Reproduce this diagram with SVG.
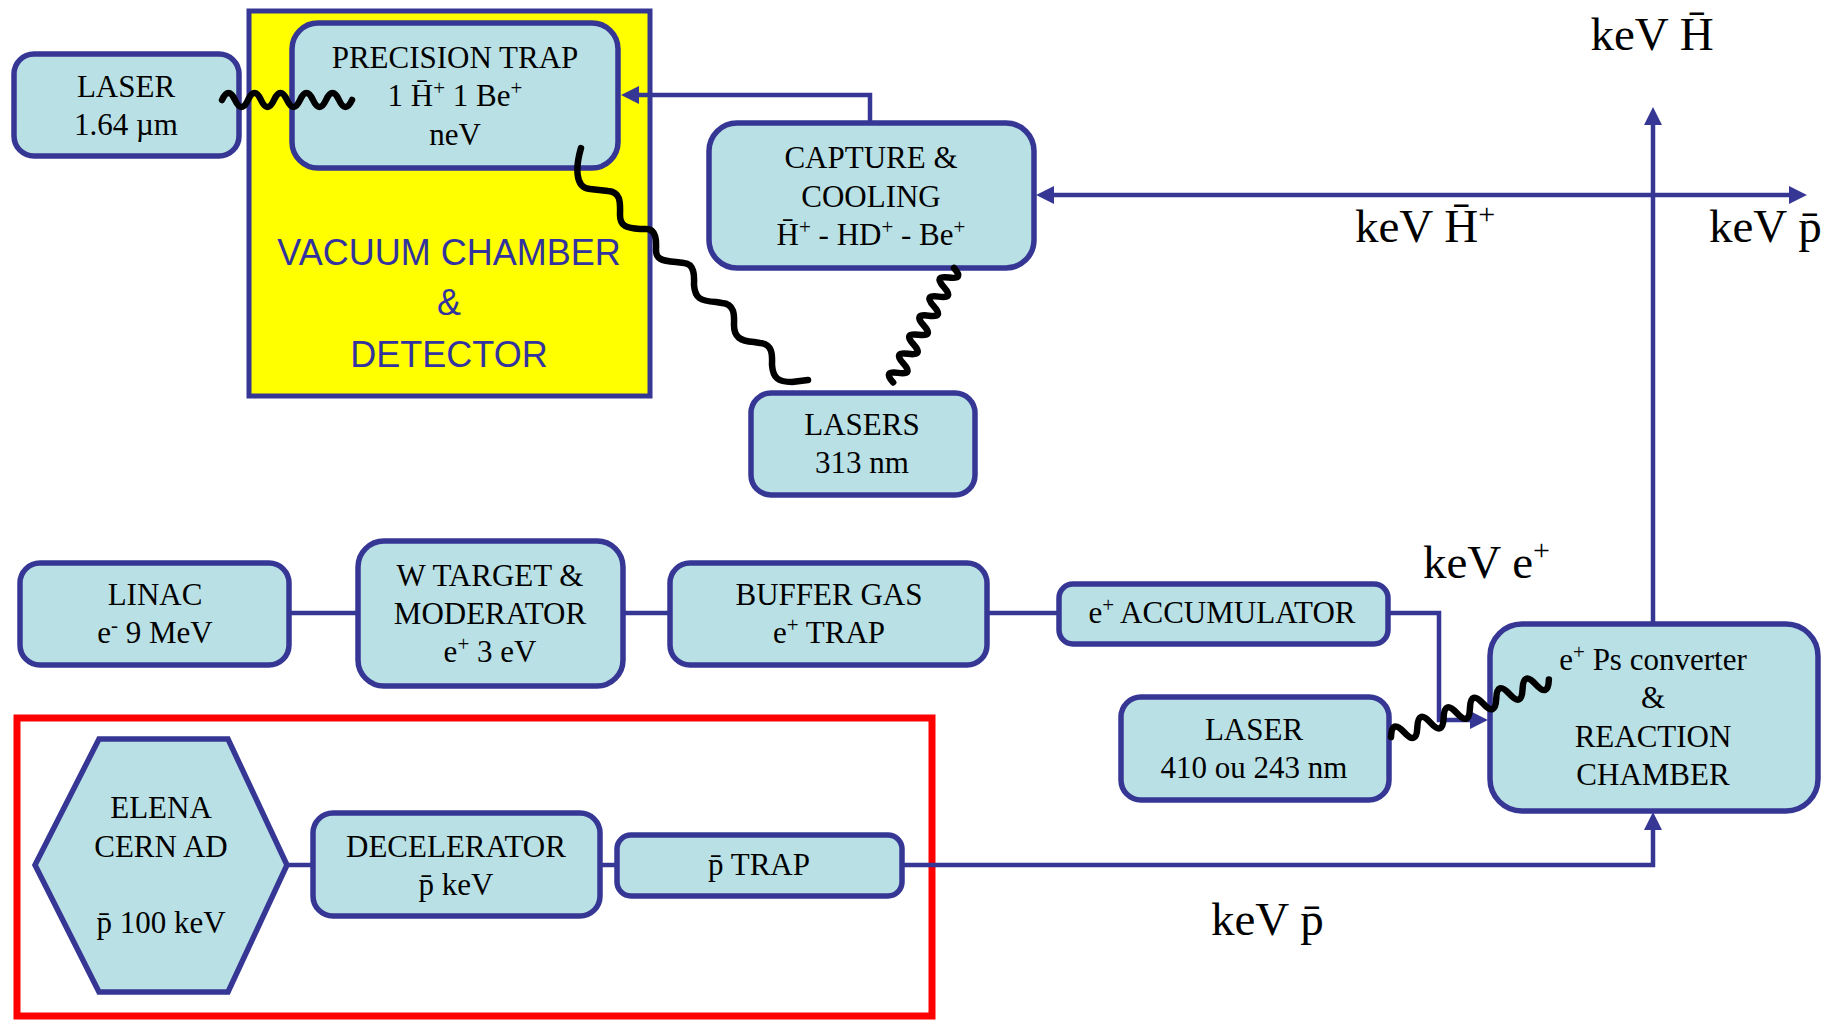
<svg xmlns="http://www.w3.org/2000/svg" width="1839" height="1022" viewBox="0 0 1839 1022">
<style>
.box{fill:#B9E0E4;stroke:#363795;stroke-width:5.5}
.t{font-family:"Liberation Serif","Times New Roman",serif;font-size:31px;fill:#000;text-anchor:middle}
.big{font-family:"Liberation Serif","Times New Roman",serif;font-size:47px;fill:#000}
.sup{font-size:21px}
.bl{fill:none;stroke:#363795;stroke-width:4.5}
.wave{fill:none;stroke:#000;stroke-width:6.5;stroke-linecap:round;stroke-linejoin:round}
.vac{font-family:"Liberation Sans",Arial,sans-serif;font-size:36px;fill:#3333A0;text-anchor:middle}
</style>
<defs>
<marker id="arr" viewBox="0 0 10 10" refX="6.7" refY="5" markerWidth="18" markerHeight="18" markerUnits="userSpaceOnUse" orient="auto-start-reverse">
<path d="M0,0 L10,5 L0,10 z" fill="#363795"/>
</marker>
</defs>
<rect width="1839" height="1022" fill="#fff"/>

<g id="vacuum-chamber">
<rect x="249" y="11" width="401" height="385" fill="#FFFF00" stroke="#363795" stroke-width="5"/>
<text class="vac" x="449" y="265">VACUUM CHAMBER</text>
<text class="vac" x="449" y="315">&amp;</text>
<text class="vac" x="449" y="367">DETECTOR</text>
</g>
<g id="red-frame">
<rect x="17" y="718" width="915" height="298" fill="none" stroke="#FF0000" stroke-width="7"/>
</g>

<g id="connectors">
<path class="bl" d="M870,122 V95 H627" marker-end="url(#arr)"/>
<path class="bl" d="M1042,195 H1801" marker-start="url(#arr)" marker-end="url(#arr)"/>
<path class="bl" d="M1653,623 V113" marker-end="url(#arr)"/>
<path class="bl" d="M290,613 H357"/>
<path class="bl" d="M622,613 H670"/>
<path class="bl" d="M987,613 H1059"/>
<path class="bl" d="M1388,613 H1439 V720 H1482" marker-end="url(#arr)"/>
<path class="bl" d="M287,865 H312"/>
<path class="bl" d="M600,865 H617"/>
<path class="bl" d="M902,865 H1653 V818" marker-end="url(#arr)"/>
</g>

<g id="laser-164">
<rect class="box" x="14" y="54" width="225" height="102" rx="20"/>
<text class="t" x="126" y="97">LASER</text>
<text class="t" x="126" y="135">1.64 µm</text>
</g>
<g id="precision-trap">
<rect class="box" x="292" y="23" width="326" height="145" rx="26"/>
<text class="t" x="455" y="68">PRECISION TRAP</text>
<text class="t" x="455" y="106">1 H̄<tspan class="sup" dy="-11">+</tspan><tspan dy="11"> 1 Be</tspan><tspan class="sup" dy="-11">+</tspan></text>
<text class="t" x="455" y="145">neV</text>
</g>
<g id="capture-cooling">
<rect class="box" x="709" y="123" width="325" height="145" rx="28"/>
<text class="t" x="871" y="168">CAPTURE &amp;</text>
<text class="t" x="871" y="207">COOLING</text>
<text class="t" x="871" y="245">H̄<tspan class="sup" dy="-11">+</tspan><tspan dy="11"> - HD</tspan><tspan class="sup" dy="-11">+</tspan><tspan dy="11"> - Be</tspan><tspan class="sup" dy="-11">+</tspan></text>
</g>
<g id="lasers-313">
<rect class="box" x="751" y="393" width="224" height="102" rx="20"/>
<text class="t" x="862" y="435">LASERS</text>
<text class="t" x="862" y="473">313 nm</text>
</g>
<g id="linac">
<rect class="box" x="20" y="563" width="269" height="102" rx="20"/>
<text class="t" x="155" y="605">LINAC</text>
<text class="t" x="155" y="643">e<tspan class="sup" dy="-11">-</tspan><tspan dy="11"> 9 MeV</tspan></text>
</g>
<g id="w-target">
<rect class="box" x="358" y="541" width="265" height="145" rx="26"/>
<text class="t" x="490" y="586">W TARGET &amp;</text>
<text class="t" x="490" y="624">MODERATOR</text>
<text class="t" x="490" y="662">e<tspan class="sup" dy="-11">+</tspan><tspan dy="11"> 3 eV</tspan></text>
</g>
<g id="buffer-gas">
<rect class="box" x="670" y="563" width="317" height="102" rx="20"/>
<text class="t" x="829" y="605">BUFFER GAS</text>
<text class="t" x="829" y="643">e<tspan class="sup" dy="-11">+</tspan><tspan dy="11"> TRAP</tspan></text>
</g>
<g id="accumulator">
<rect class="box" x="1059" y="584" width="329" height="60" rx="14"/>
<text class="t" x="1222" y="623">e<tspan class="sup" dy="-11">+</tspan><tspan dy="11"> ACCUMULATOR</tspan></text>
</g>
<g id="laser-410">
<rect class="box" x="1121" y="697" width="268" height="103" rx="20"/>
<text class="t" x="1254" y="740">LASER</text>
<text class="t" x="1254" y="778">410 ou 243 nm</text>
</g>
<g id="reaction-chamber">
<rect class="box" x="1490" y="624" width="328" height="187" rx="32"/>
<text class="t" x="1653" y="670">e<tspan class="sup" dy="-11">+</tspan><tspan dy="11"> Ps converter</tspan></text>
<text class="t" x="1653" y="708">&amp;</text>
<text class="t" x="1653" y="747">REACTION</text>
<text class="t" x="1653" y="785">CHAMBER</text>
</g>
<g id="elena">
<polygon class="box" points="99,739 228,739 287,865 228,992 99,992 35,865"/>
<text class="t" x="161" y="818">ELENA</text>
<text class="t" x="161" y="857">CERN AD</text>
<text class="t" x="161" y="933">p̄ 100 keV</text>
</g>
<g id="decelerator">
<rect class="box" x="313" y="813" width="287" height="103" rx="20"/>
<text class="t" x="456" y="857">DECELERATOR</text>
<text class="t" x="456" y="895">p̄ keV</text>
</g>
<g id="pbar-trap">
<rect class="box" x="617" y="835" width="285" height="61" rx="14"/>
<text class="t" x="759" y="875">p̄ TRAP</text>
</g>

<g id="photon-links">
<path class="wave" d="M222,100 q6.5,-14 13,0 t13,0 t13,0 t13,0 t13,0 t13,0 t13,0 t13,0 t13,0 t13,0"/>
<path class="wave" d="M581,148 C576,165 574,188 590,189 L608,191 C622,192 620,205 620,215 C620,226 626,228 640,229 L646,229 C658,229 656,245 656,250 C656,258 660,261 676,262 L684,263 C696,264 694,280 694,285 C695,298 700,301 716,302 L722,303 C736,304 734,318 734,325 C734,337 740,341 754,342 L760,343 C774,344 772,358 772,365 C773,378 778,382 792,382 L808,380"/>
<path class="wave" transform="translate(954,268) rotate(118)" d="M0,0 q5.4,-15 10.8,0 t10.8,0 t10.8,0 t10.8,0 t10.8,0 t10.8,0 t10.8,0 t10.8,0 t10.8,0 t10.8,0 t10.8,0 t10.8,0"/>
<path class="wave" transform="translate(1391,737) rotate(-20)" d="M0,0 q7,-17 14,0 t14,0 t14,0 t14,0 t14,0 t14,0 t14,0 t14,0 t14,0 t14,0 t14,0 t14,0"/>
</g>

<g id="labels">
<text class="big" x="1652" y="50" text-anchor="middle">keV H̄</text>
<text class="big" x="1355" y="242">keV H̄<tspan font-size="30" dy="-18">+</tspan></text>
<text class="big" x="1709" y="242">keV p̄</text>
<text class="big" x="1423" y="578">keV e<tspan font-size="30" dy="-18">+</tspan></text>
<text class="big" x="1211" y="935">keV p̄</text>
</g>
</svg>
